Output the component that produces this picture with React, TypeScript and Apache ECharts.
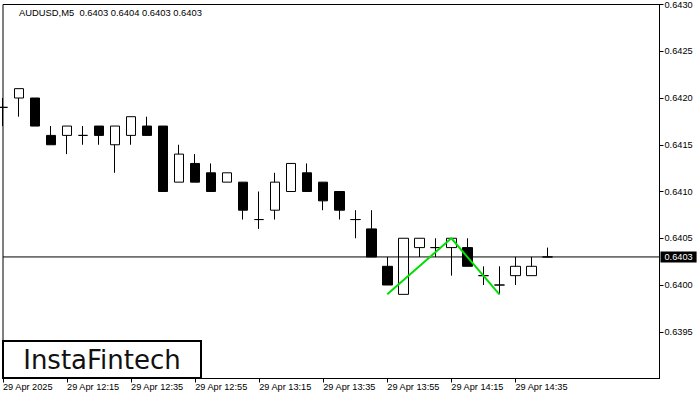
import React, { useEffect, useRef } from "react";
import * as echarts from "echarts";

const symbolTitle = "AUDUSD,M5  0.6403 0.6404 0.6403 0.6403";

const categories = [
  "11:55", "12:00", "12:05", "12:10", "12:15", "12:20", "12:25", "12:30", "12:35", "12:40",
  "12:45", "12:50", "12:55", "13:00", "13:05", "13:10", "13:15", "13:20", "13:25", "13:30",
  "13:35", "13:40", "13:45", "13:50", "13:55", "14:00", "14:05", "14:10", "14:15", "14:20",
  "14:25", "14:30", "14:35", "14:40", "14:45", "14:50", "14:55", "15:00", "15:05", "15:10",
  "15:15", "15:20",
];

const opens = [
  0.6419, 0.6420, 0.6420, 0.6416, 0.6416, 0.6416, 0.6417, 0.6415, 0.6416, 0.6417,
  0.6417, 0.6411, 0.6413, 0.6412, 0.6411, 0.6411, 0.6407, 0.6408, 0.6410, 0.6412,
  0.6411, 0.6410, 0.6407, 0.6406, 0.6402, 0.6399, 0.6404, 0.6404, 0.6404, 0.6404,
  0.6401, 0.6400, 0.6401, 0.6401, 0.6403,
];
const highs = [
  0.6420, 0.6421, 0.6420, 0.6417, 0.6417, 0.6417, 0.6417, 0.6417, 0.6418, 0.6418,
  0.6417, 0.6415, 0.6414, 0.6413, 0.6412, 0.6411, 0.6410, 0.6412, 0.6413, 0.6413,
  0.6411, 0.6410, 0.6408, 0.6408, 0.6403, 0.6405, 0.6405, 0.6405, 0.6405, 0.6405,
  0.6402, 0.6402, 0.6403, 0.6403, 0.6404,
];
const lows = [
  0.6417, 0.6418, 0.6417, 0.6415, 0.6414, 0.6415, 0.6415, 0.6412, 0.6415, 0.6416,
  0.6410, 0.6411, 0.6411, 0.6410, 0.6411, 0.6407, 0.6406, 0.6407, 0.6410, 0.6410,
  0.6408, 0.6407, 0.6405, 0.6403, 0.6400, 0.6399, 0.6403, 0.6403, 0.6401, 0.6402,
  0.6400, 0.6399, 0.6400, 0.6401, 0.6403,
];
const closes = [
  0.6419, 0.6421, 0.6417, 0.6415, 0.6417, 0.6416, 0.6416, 0.6417, 0.6418, 0.6416,
  0.6410, 0.6414, 0.6411, 0.6410, 0.6412, 0.6408, 0.6407, 0.6411, 0.6413, 0.6410,
  0.6409, 0.6408, 0.6407, 0.6403, 0.6400, 0.6405, 0.6405, 0.6404, 0.6405, 0.6402,
  0.6401, 0.6400, 0.6402, 0.6402, 0.6403,
];

const currentPrice = 0.6403;

const patternTimes = ["13:55", "14:15", "14:30"];
const patternValues = [0.6399, 0.6405, 0.6399];

const tickTimes = ["11:55", "12:15", "12:35", "12:55", "13:15", "13:35", "13:55", "14:15", "14:35"];
const tickLabels = [
  "29 Apr 2025", "29 Apr 12:15", "29 Apr 12:35", "29 Apr 12:55", "29 Apr 13:15",
  "29 Apr 13:35", "29 Apr 13:55", "29 Apr 14:15", "29 Apr 14:35",
];

const yMin = 0.639;
const yMax = 0.643;
const yStep = 0.0005;

const FONT = "Liberation Sans";

export default function App() {
  const ref = useRef<HTMLDivElement>(null);

  useEffect(() => {
    if (!ref.current) return;
    const chart = echarts.init(ref.current, undefined, { renderer: "svg" });

    const candleData = opens.map((o, i) => [o, closes[i], lows[i], highs[i]]);
    const labelMap: Record<string, string> = {};
    tickTimes.forEach((t, i) => (labelMap[t] = tickLabels[i]));
    const isTick = (index: number) => labelMap[categories[index]] !== undefined;

    chart.setOption({
      animation: false,
      backgroundColor: "#ffffff",
      grid: {
        left: 2.5,
        top: 2.5,
        right: 40.5,
        bottom: 21.5,
        show: true,
        borderColor: "#000",
        borderWidth: 1,
        backgroundColor: "transparent",
      },
      xAxis: {
        type: "category",
        data: categories,
        boundaryGap: false,
        axisLine: { show: true, lineStyle: { color: "#000", width: 1 } },
        axisTick: {
          show: true,
          length: 4,
          interval: (index: number) => isTick(index),
          lineStyle: { color: "#000" },
        },
        axisLabel: {
          interval: (index: number) => isTick(index),
          formatter: (v: string) => labelMap[v] ?? "",
          align: "left",
          margin: 4,
          color: "#000",
          fontFamily: FONT,
          fontSize: 9.2,
        },
        splitLine: { show: false },
      },
      yAxis: {
        type: "value",
        position: "right",
        min: yMin,
        max: yMax,
        interval: yStep,
        axisLine: { show: true, lineStyle: { color: "#000", width: 1 } },
        axisTick: { show: true, length: 4, lineStyle: { color: "#000" } },
        axisLabel: {
          showMinLabel: false,
          formatter: (v: number) => v.toFixed(4),
          margin: 5,
          color: "#000",
          fontFamily: FONT,
          fontSize: 9.2,
        },
        splitLine: { show: false },
      },
      graphic: [
        {
          type: "text",
          x: 19,
          y: 12,
          style: {
            text: symbolTitle,
            fill: "#000",
            font: `9.4px "${FONT}"`,
            textVerticalAlign: "middle",
          },
          z: 10,
        },
        {
          type: "rect",
          shape: { x: 3, y: 341, width: 198, height: 37 },
          style: { fill: "#fff", stroke: "#000", lineWidth: 2 },
          z: 20,
        },
        {
          type: "text",
          x: 102,
          y: 360,
          style: {
            text: "InstaFintech",
            fill: "#111",
            font: `26px "DejaVu Sans"`,
            textAlign: "center",
            textVerticalAlign: "middle",
          },
          z: 21,
        },
      ],
      series: [
        {
          type: "candlestick",
          data: candleData,
          barWidth: 10,
          itemStyle: {
            color: "#fff",
            color0: "#000",
            borderColor: "#000",
            borderColor0: "#000",
            borderWidth: 1,
          },
          emphasis: { disabled: true },
          z: 2,
        },
        {
          type: "line",
          data: [
            [categories[0], currentPrice],
            [categories[categories.length - 1], currentPrice],
          ],
          symbol: "none",
          lineStyle: { color: "#000", width: 1 },
          emphasis: { disabled: true },
          silent: true,
          endLabel: {
            show: true,
            formatter: () => currentPrice.toFixed(4),
            backgroundColor: "#000",
            color: "#fff",
            padding: [1, 4, 1, 4],
            distance: 1,
            fontFamily: FONT,
            fontSize: 9.2,
          },
          z: 3,
        },
        {
          type: "line",
          data: patternTimes.map((t, i) => [t, patternValues[i]]),
          symbol: "none",
          lineStyle: { color: "#00e000", width: 2 },
          emphasis: { disabled: true },
          silent: true,
          z: 5,
        },
      ],
    });

    return () => chart.dispose();
  }, []);

  return (
    <div
      ref={ref}
      style={{ position: "fixed", left: 0, top: 0, width: 700, height: 400, background: "#fff" }}
    />
  );
}
